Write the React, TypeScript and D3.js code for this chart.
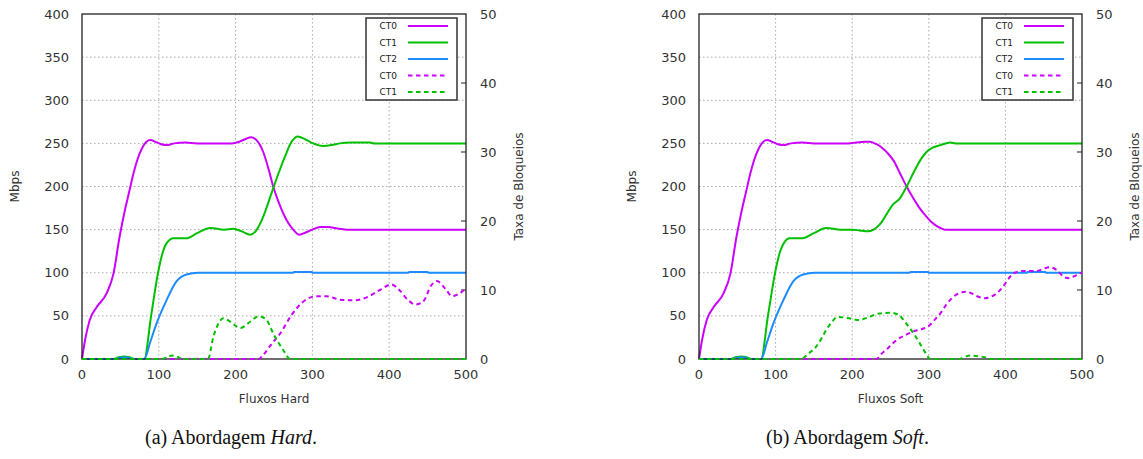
import * as d3 from 'd3'

type Pt = [number, number]

const xTicks = [0, 100, 200, 300, 400, 500]
const yTicks = [0, 50, 100, 150, 200, 250, 300, 350, 400]
const y2Ticks = [0, 10, 20, 30, 40, 50]
const legendLabels = ['CT0', 'CT1', 'CT2', 'CT0', 'CT1']

// Mbps (left axis)
const hardCT0: Pt[] = [[0, 0], [4, 22], [10, 45], [19, 60], [32, 76], [41, 99], [49, 142], [56, 173], [62, 196], [67, 215], [75, 238], [84, 252], [89, 254], [95, 252], [103, 249], [110, 248], [120, 250], [135, 251], [150, 250], [195, 250], [205, 252], [213, 255], [220, 257], [227, 254], [236, 240], [243, 220], [249, 200], [256, 182], [262, 169], [269, 157], [275, 150], [283, 144], [292, 147], [300, 150], [310, 153], [320, 153], [335, 151], [345, 150], [500, 150]]
const hardCT1: Pt[] = [[0, 0], [40, 0], [48, 2], [55, 3], [62, 2], [68, 0], [81, 0], [90, 50], [99, 100], [104, 120], [110, 134], [119, 140], [136, 140], [150, 146], [167, 152], [185, 150], [197, 151], [208, 148], [219, 144], [226, 148], [236, 165], [244, 185], [249, 198], [257, 218], [264, 234], [273, 252], [281, 258], [290, 255], [301, 250], [314, 247], [325, 248], [336, 250], [349, 251], [375, 251], [380, 250], [500, 250]]
const hardCT2: Pt[] = [[0, 0], [40, 0], [48, 1], [55, 2], [62, 1], [68, 0], [81, 0], [89, 20], [97, 41], [110, 68], [123, 90], [136, 98], [151, 100], [275, 100], [276, 101], [299, 101], [300, 100], [425, 100], [426, 101], [450, 101], [451, 100], [500, 100]]
// Taxa de Bloqueios (right axis)
const hardCT0Block: Pt[] = [[0, 0], [230, 0], [236, 0.6], [247, 2.2], [258, 3.7], [273, 6.4], [288, 8.3], [305, 9.1], [318, 9.1], [336, 8.6], [353, 8.5], [370, 8.9], [388, 10], [403, 10.8], [413, 10], [425, 8.5], [434, 7.9], [444, 8.3], [455, 10.7], [462, 11.3], [473, 10.2], [482, 9.1], [490, 9.4], [500, 10.2]]
const hardCT1Block: Pt[] = [[0, 0], [105, 0], [112, 0.4], [118, 0.5], [125, 0.3], [130, 0], [164, 0], [171, 3.2], [177, 5], [184, 5.9], [193, 5.4], [206, 4.5], [219, 5.4], [230, 6.2], [240, 5.7], [249, 3.7], [262, 1.3], [271, 0], [500, 0]]

const softCT0: Pt[] = [[0, 0], [4, 22], [10, 45], [19, 60], [32, 76], [41, 99], [49, 142], [56, 173], [62, 196], [67, 215], [75, 238], [84, 252], [89, 254], [95, 252], [103, 249], [110, 248], [120, 250], [135, 251], [150, 250], [195, 250], [205, 251], [216, 252], [223, 252], [232, 249], [240, 244], [247, 238], [254, 230], [262, 216], [271, 200], [280, 186], [288, 175], [295, 167], [302, 160], [309, 155], [315, 152], [321, 150], [500, 150]]
const softCT1: Pt[] = [[0, 0], [40, 0], [48, 2], [55, 3], [62, 2], [68, 0], [81, 0], [90, 50], [100, 103], [106, 125], [112, 136], [118, 140], [135, 140], [150, 146], [166, 152], [185, 150], [200, 150], [210, 149], [220, 148], [228, 150], [236, 156], [245, 168], [253, 179], [262, 186], [270, 198], [280, 216], [290, 232], [297, 240], [305, 245], [315, 248], [328, 251], [335, 250], [500, 250]]
const softCT2: Pt[] = [[0, 0], [40, 0], [48, 1], [55, 2], [62, 1], [68, 0], [81, 0], [89, 20], [97, 41], [110, 68], [123, 90], [136, 98], [151, 100], [275, 100], [276, 101], [299, 101], [300, 100], [428, 100], [429, 101], [452, 101], [453, 100], [500, 100]]
const softCT0Block: Pt[] = [[0, 0], [232, 0], [236, 0.5], [247, 1.6], [258, 2.75], [270, 3.5], [280, 4], [290, 4.3], [299, 4.7], [307, 5.6], [315, 6.6], [323, 7.9], [332, 9], [341, 9.6], [349, 9.75], [356, 9.5], [363, 9.1], [373, 8.8], [380, 9], [386, 9.3], [397, 10.5], [404, 11.6], [410, 12.4], [423, 12.75], [441, 12.75], [450, 13.1], [458, 13.3], [467, 12.9], [478, 11.8], [484, 11.7], [490, 12], [497, 12.4], [500, 12.5]]
const softCT1Block: Pt[] = [[0, 0], [133, 0], [143, 0.8], [153, 1.8], [160, 3], [166, 4.2], [173, 5.3], [181, 6.1], [196, 5.9], [209, 5.65], [222, 6.1], [235, 6.6], [249, 6.7], [256, 6.6], [262, 6.3], [268, 5.5], [275, 4.5], [282, 3.4], [288, 2.3], [295, 1], [299, 0.3], [302, 0], [340, 0], [347, 0.3], [355, 0.5], [365, 0.4], [375, 0.2], [380, 0], [500, 0]]

const PURPLE = '#cc00ff'
const GREEN = '#00c000'
const BLUE = '#1a8cff'
const DASH = '4.5,3.5'
const FONT = 'DejaVu Sans, sans-serif'

const TOP = 14
const BOTTOM = 359

const Panel = ({ x0, x1, solid, dashed, xLabel, captionLabel, captionWord }) => {
    const x = d3.scaleLinear().domain([0, 500]).range([x0, x1])
    const y = d3.scaleLinear().domain([0, 400]).range([BOTTOM, TOP])
    const y2 = d3.scaleLinear().domain([0, 50]).range([BOTTOM, TOP])
    const line = d3.line<Pt>().x((d) => x(d[0])).y((d) => y(d[1])).curve(d3.curveMonotoneX)
    const line2 = d3.line<Pt>().x((d) => x(d[0])).y((d) => y2(d[1])).curve(d3.curveMonotoneX)
    const colors = [PURPLE, GREEN, BLUE, PURPLE, GREEN]
    const cx = (x0 + x1) / 2
    const midY = (TOP + BOTTOM) / 2
    return (
        <g>
            {/* grid */}
            {xTicks.slice(1, -1).map((t) => (
                <line key={'gx' + t} x1={x(t)} x2={x(t)} y1={TOP} y2={BOTTOM}
                    stroke="#a8a8a8" strokeWidth={1} strokeDasharray="1.5,2.5" />
            ))}
            {yTicks.slice(1, -1).map((t) => (
                <line key={'gy' + t} x1={x0} x2={x1} y1={y(t)} y2={y(t)}
                    stroke="#a8a8a8" strokeWidth={1} strokeDasharray="1.5,2.5" />
            ))}
            {y2Ticks.slice(1, -1).map((t) => (
                <line key={'t2' + t} x1={x1 - 5} x2={x1} y1={y2(t)} y2={y2(t)} stroke="#222" strokeWidth={1} />
            ))}
            {/* solid series, then border, then dashed on top */}
            {solid.map((s, i) => (
                <path key={'s' + i} d={line(s)} fill="none" stroke={colors[i]} strokeWidth={2} />
            ))}
            <rect x={x0} y={TOP} width={x1 - x0} height={BOTTOM - TOP} fill="none" stroke="#222" strokeWidth={1.3} />
            {dashed.map((s, i) => (
                <path key={'d' + i} d={line2(s)} fill="none" stroke={colors[3 + i]}
                    strokeWidth={2} strokeDasharray={DASH} />
            ))}
            {/* legend */}
            <rect x={x1 - 100} y={18} width={91} height={82} fill="white" stroke="#333" strokeWidth={1.5} />
            {legendLabels.map((lab, i) => {
                const ly = 26 + i * 16.5
                return (
                    <g key={'l' + i}>
                        <text x={x1 - 69} y={ly} dy="0.35em" textAnchor="end" fontFamily={FONT}
                            fontSize={9} fill="#222">{lab}</text>
                        <line x1={x1 - 58} x2={x1 - 18} y1={ly} y2={ly} stroke={colors[i]} strokeWidth={2}
                            strokeDasharray={i >= 3 ? DASH : undefined} />
                    </g>
                )
            })}
            {/* tick labels */}
            {yTicks.map((t) => (
                <text key={'yl' + t} x={x0 - 13} y={y(t)} dy="0.35em" textAnchor="end"
                    fontFamily={FONT} fontSize={13} fill="#333">{t}</text>
            ))}
            {y2Ticks.map((t) => (
                <text key={'y2l' + t} x={x1 + 14} y={y2(t)} dy="0.35em" textAnchor="start"
                    fontFamily={FONT} fontSize={13} fill="#333">{t}</text>
            ))}
            {xTicks.map((t) => (
                <text key={'xl' + t} x={x(t)} y={374} dy="0.35em" textAnchor="middle"
                    fontFamily={FONT} fontSize={13} fill="#333">{t}</text>
            ))}
            {/* axis labels */}
            <text x={cx} y={399} dy="0.35em" textAnchor="middle" fontFamily={FONT} fontSize={12} fill="#333">{xLabel}</text>
            <text transform={`translate(${x0 - 67},${midY}) rotate(-90)`} dy="0.35em" textAnchor="middle"
                fontFamily={FONT} fontSize={12} fill="#333">Mbps</text>
            <text transform={`translate(${x1 + 53},${midY}) rotate(-90)`} dy="0.35em" textAnchor="middle"
                fontFamily={FONT} fontSize={12} fill="#333">Taxa de Bloqueios</text>
            {/* caption */}
            <text x={cx - 43} y={444} textAnchor="middle" fontFamily="Liberation Serif, serif" fontSize={20} fill="#111">
                {captionLabel} Abordagem <tspan fontStyle="italic">{captionWord}</tspan>.
            </text>
        </g>
    )
}

export default function App() {
    return (
        <svg width={1143} height={459} style={{ position: 'absolute', left: 0, top: 0, background: 'white' }}>
            <Panel x0={82} x1={466} solid={[hardCT0, hardCT1, hardCT2]} dashed={[hardCT0Block, hardCT1Block]}
                xLabel="Fluxos Hard" captionLabel="(a)" captionWord="Hard" />
            <Panel x0={699} x1={1082} solid={[softCT0, softCT1, softCT2]} dashed={[softCT0Block, softCT1Block]}
                xLabel="Fluxos Soft" captionLabel="(b)" captionWord="Soft" />
        </svg>
    )
}
